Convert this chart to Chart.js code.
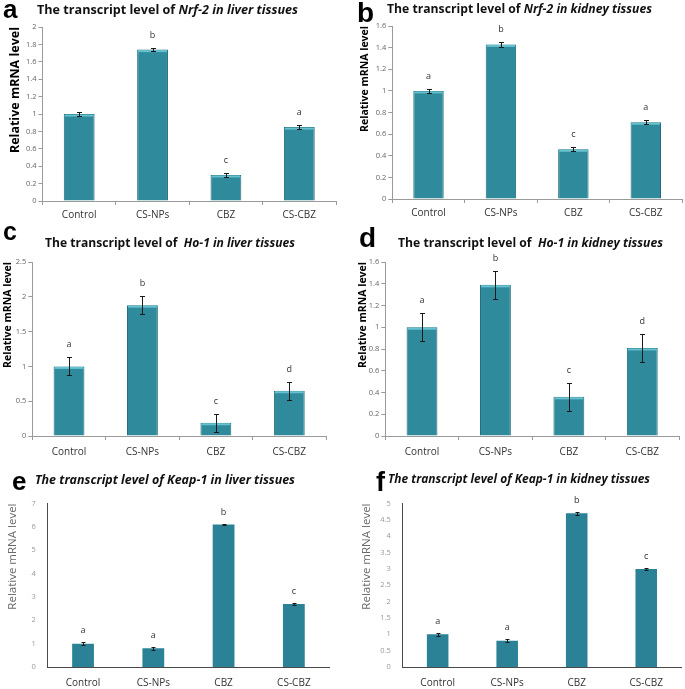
<!DOCTYPE html>
<html>
<head>
<meta charset="utf-8">
<script src="https://cdn.jsdelivr.net/npm/chart.js@4.4.1/dist/chart.umd.min.js"></script>
<style>
  html, body { margin: 0; padding: 0; background: #fff; }
  #fig { position: relative; width: 685px; height: 689px; overflow: hidden; background: #fff; }
  #fig canvas { position: absolute; }
  .letter { position: absolute; font-family: "Liberation Sans", Arial, sans-serif; font-weight: bold; line-height: 1; color: #000; }
  .ttl { position: absolute; font-family: "Open Sans", sans-serif; font-weight: 700; font-size: 12.5px; line-height: 1; white-space: nowrap; color: #111; transform-origin: 0 0; }
  .ttl i { font-style: italic; }
</style>
</head>
<body>
<div id="fig"></div>
<script>
const categories = ['Control', 'CS-NPs', 'CBZ', 'CS-CBZ'];

// a - Nrf-2, liver
const nrf2Liver = [1.00, 1.74, 0.30, 0.85];
const nrf2LiverErr = [0.02, 0.02, 0.02, 0.02];
const nrf2LiverSig = ['', 'b', 'c', 'a'];
const nrf2LiverTicks = [0, 0.2, 0.4, 0.6, 0.8, 1, 1.2, 1.4, 1.6, 1.8, 2];

// b - Nrf-2, kidney
const nrf2Kidney = [1.00, 1.43, 0.46, 0.71];
const nrf2KidneyErr = [0.02, 0.02, 0.02, 0.02];
const nrf2KidneySig = ['a', 'b', 'c', 'a'];
const nrf2KidneyTicks = [0, 0.2, 0.4, 0.6, 0.8, 1, 1.2, 1.4, 1.6];

// c - Ho-1, liver
const ho1Liver = [1.00, 1.88, 0.19, 0.65];
const ho1LiverErr = [0.13, 0.13, 0.13, 0.13];
const ho1LiverSig = ['a', 'b', 'c', 'd'];
const ho1LiverTicks = [0, 0.5, 1, 1.5, 2, 2.5];

// d - Ho-1, kidney
const ho1Kidney = [1.00, 1.39, 0.36, 0.81];
const ho1KidneyErr = [0.13, 0.13, 0.13, 0.13];
const ho1KidneySig = ['a', 'b', 'c', 'd'];
const ho1KidneyTicks = [0, 0.2, 0.4, 0.6, 0.8, 1, 1.2, 1.4, 1.6];

// e - Keap-1, liver
const keap1Liver = [1.00, 0.80, 6.10, 2.70];
const keap1LiverErr = [0.05, 0.06, 0.04, 0.04];
const keap1LiverSig = ['a', 'a', 'b', 'c'];
const keap1LiverTicks = [0, 1, 2, 3, 4, 5, 6, 7];

// f - Keap-1, kidney
const keap1Kidney = [1.00, 0.80, 4.70, 3.00];
const keap1KidneyErr = [0.05, 0.05, 0.05, 0.04];
const keap1KidneySig = ['a', 'a', 'b', 'c'];
const keap1KidneyTicks = [0, 0.5, 1, 1.5, 2, 2.5, 3, 3.5, 4, 4.5, 5];

const yTitle = 'Relative mRNA level';

// layout of each panel: chart area [left, top, right, bottom], y title centre x
const panels = [
  { letter: 'a', lx: 3, lb: 18, ls: 26,
    title: 'The transcript level of <i>Nrf-2 in liver tissues</i>', tl: 37, tr: 298, tb: 14.7,
    values: nrf2Liver, errs: nrf2LiverErr, sig: nrf2LiverSig, ticks: nrf2LiverTicks,
    area: [42, 27, 335, 201], ytx: 15, yts: 12.5, classic: true, xpad: 4 },
  { letter: 'b', lx: 357, lb: 23, ls: 28,
    title: 'The transcript level of <i>Nrf-2 in kidney tissues</i>', tl: 387, tr: 652, tb: 14,
    values: nrf2Kidney, errs: nrf2KidneyErr, sig: nrf2KidneySig, ticks: nrf2KidneyTicks,
    area: [392, 26, 682, 199], ytx: 365, yts: 10.5, classic: true, xpad: 4 },
  { letter: 'c', lx: 3, lb: 240, ls: 25,
    title: 'The transcript level of&nbsp; <i>Ho-1 in liver tissues</i>', tl: 45, tr: 295, tb: 248.3,
    values: ho1Liver, errs: ho1LiverErr, sig: ho1LiverSig, ticks: ho1LiverTicks,
    area: [32, 262, 326, 436], ytx: 8, yts: 10.5, classic: true, xpad: 6 },
  { letter: 'd', lx: 359, lb: 248, ls: 28,
    title: 'The transcript level of&nbsp; <i>Ho-1 in kidney tissues</i>', tl: 398, tr: 663, tb: 247.7,
    values: ho1Kidney, errs: ho1KidneyErr, sig: ho1KidneySig, ticks: ho1KidneyTicks,
    area: [385, 262, 679, 436], ytx: 363, yts: 10.5, classic: true, xpad: 6 },
  { letter: 'e', lx: 12, lb: 490, ls: 26,
    title: '<i>The transcript level of Keap-1 in liver tissues</i>', tl: 35, tr: 295, tb: 485,
    values: keap1Liver, errs: keap1LiverErr, sig: keap1LiverSig, ticks: keap1LiverTicks,
    area: [48, 499, 329, 667], ytx: 13, yts: 11.5, classic: false, xpad: 6 },
  { letter: 'f', lx: 376, lb: 492, ls: 27,
    title: '<i>The transcript level of Keap-1 in kidney tissues</i>', tl: 388, tr: 650, tb: 484,
    values: keap1Kidney, errs: keap1KidneyErr, sig: keap1KidneySig, ticks: keap1KidneyTicks,
    area: [403, 499, 681, 667], ytx: 367, yts: 11.5, classic: false, xpad: 6 }
];

const PAD_T = 8, PAD_R = 3, X_H = 22;

// error bars, significance letters and the light top edge of the bars
const extrasPlugin = {
  id: 'extras',
  afterDatasetsDraw(chart, args, opts) {
    const ctx = chart.ctx;
    const y = chart.scales.y;
    const meta = chart.getDatasetMeta(0);
    ctx.save();
    meta.data.forEach((bar, i) => {
      if (opts.highlight) {
        ctx.fillStyle = opts.highlight;
        ctx.fillRect(bar.x - bar.width / 2 + 1, bar.y + 0.5, bar.width - 2, 2);
      }
      const v = opts.values[i], e = opts.errs[i];
      const top = Math.round(y.getPixelForValue(v + e)) + 0.5;
      const bot = Math.round(y.getPixelForValue(v - e)) + 0.5;
      const cx = Math.round(bar.x) + 0.5;
      ctx.strokeStyle = '#1a1a1a';
      ctx.lineWidth = 1;
      ctx.beginPath();
      ctx.moveTo(cx, top); ctx.lineTo(cx, bot);
      ctx.moveTo(cx - opts.cap, top); ctx.lineTo(cx + opts.cap, top);
      ctx.moveTo(cx - opts.cap, bot); ctx.lineTo(cx + opts.cap, bot);
      ctx.stroke();
      if (opts.sig[i]) {
        ctx.fillStyle = '#333';
        ctx.font = '9px "Open Sans", sans-serif';
        ctx.textAlign = 'center';
        ctx.textBaseline = 'bottom';
        ctx.fillText(opts.sig[i], bar.x, top - opts.gap);
      }
    });
    ctx.restore();
  }
};

const fig = document.getElementById('fig');

panels.forEach(p => {
  const [L, T, R, B] = p.area;
  const lh = p.yts * 1.2;
  const cLeft = p.ytx - lh / 2;
  const cTop = T - PAD_T;
  const w = Math.round(R + PAD_R - cLeft);
  const h = Math.round(B + X_H - cTop);
  const yW = L - cLeft;

  const canvas = document.createElement('canvas');
  canvas.width = w;
  canvas.height = h;
  canvas.style.left = cLeft + 'px';
  canvas.style.top = cTop + 'px';
  fig.appendChild(canvas);

  const axisCol = p.classic ? '#9a9a9a' : '#4a4a4a';
  const tickCol = p.classic ? '#666' : '#999';

  new Chart(canvas, {
    type: 'bar',
    data: {
      labels: categories,
      datasets: [{
        data: p.values,
        backgroundColor: p.classic ? '#2f8a9b' : '#2b8296',
        borderColor: p.classic ? '#1f6d7b' : '#2b8296',
        borderWidth: p.classic ? 1 : 0,
        barPercentage: p.classic ? 0.42 : 0.31,
        categoryPercentage: 1
      }]
    },
    options: {
      responsive: false,
      animation: false,
      layout: { padding: { top: PAD_T, right: PAD_R, left: 0, bottom: 0 } },
      plugins: {
        legend: { display: false },
        tooltip: { enabled: false },
        extras: {
          values: p.values, errs: p.errs, sig: p.sig,
          cap: p.classic ? 2.5 : 2, gap: p.classic ? 9 : 8,
          highlight: p.classic ? '#66c2d0' : null
        }
      },
      scales: {
        x: {
          offset: true,
          grid: {
            display: p.classic, drawOnChartArea: false, drawTicks: true,
            tickLength: 4, color: axisCol, offset: true
          },
          border: { color: axisCol, width: 1 },
          ticks: {
            color: '#333', padding: p.xpad,
            font: { family: '"Open Sans", sans-serif', size: 10 }
          },
          afterFit: s => { s.height = X_H; }
        },
        y: {
          min: p.ticks[0],
          max: p.ticks[p.ticks.length - 1],
          afterBuildTicks: s => { s.ticks = p.ticks.map(v => ({ value: v })); },
          grid: {
            display: p.classic, drawOnChartArea: false, drawTicks: true,
            tickLength: 4, color: axisCol
          },
          border: { color: axisCol, width: 1 },
          ticks: {
            color: tickCol, padding: p.classic ? 2 : 8,
            font: { family: '"Open Sans", sans-serif', size: 7.5 },
            callback: v => String(v)
          },
          title: {
            display: true, text: yTitle, align: 'end', padding: 0,
            color: p.classic ? '#000' : '#6a6a6a',
            font: { family: '"Open Sans", sans-serif', size: p.yts, weight: p.classic ? 'bold' : 'normal' }
          },
          afterFit: s => { s.width = yW; }
        }
      }
    },
    plugins: [extrasPlugin]
  });

  const letter = document.createElement('div');
  letter.className = 'letter';
  letter.textContent = p.letter;
  letter.style.fontSize = p.ls + 'px';
  letter.style.left = p.lx + 'px';
  letter.style.top = (p.lb - 0.845 * p.ls) + 'px';
  fig.appendChild(letter);

  const ttl = document.createElement('div');
  ttl.className = 'ttl';
  ttl.innerHTML = p.title;
  ttl.style.left = p.tl + 'px';
  ttl.style.top = (p.tb - 0.888 * 12.5) + 'px';
  fig.appendChild(ttl);
  const tw = ttl.getBoundingClientRect().width;
  ttl.style.transform = 'scaleX(' + ((p.tr - p.tl) / tw) + ')';
});
</script>
</body>
</html>
